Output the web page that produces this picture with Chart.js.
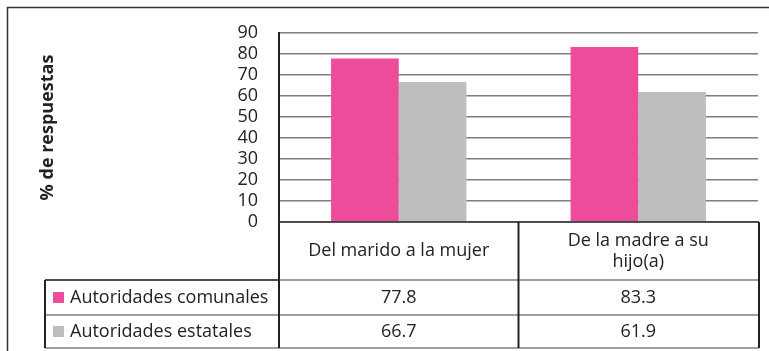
<!DOCTYPE html>
<html>
<head>
<meta charset="utf-8">
<script src="https://cdn.jsdelivr.net/npm/chart.js@4/dist/chart.umd.min.js"></script>
<style>
  html, body { margin: 0; background: #fff; }
  #wrap { width: 769px; height: 351px; }
</style>
</head>
<body>
<div id="wrap"><canvas id="chart"></canvas></div>
<script>
// Data
const categories = [['Del marido a la mujer'], ['De la madre a su', 'hijo(a)']]
const seriesNames = ['Autoridades comunales', 'Autoridades estatales']
const comunales = [77.8, 83.3]
const estatales = [66.7, 61.9]
const yTickStep = 10
const yMax = 90

const PINK = '#ec4c99'
const GRAY = '#bcbec0'
const INK = '#222'
const FONT = '"Open Sans", sans-serif'

// Outer frame of the figure (runs off the right and bottom edges)
const frame = {
  id: 'frame',
  beforeDraw(chart) {
    const ctx = chart.ctx
    ctx.save()
    ctx.strokeStyle = '#333'
    ctx.lineWidth = 1.5
    ctx.strokeRect(7.5, 7.5, 800, 400)
    ctx.restore()
  }
}

// Data table under the plot, one column per category
const dataTable = {
  id: 'dataTable',
  afterDraw(chart) {
    const { ctx, chartArea, scales: { x } } = chart
    const rowHeights = [58, 35, 33]
    const y0 = chartArea.bottom
    const y1 = y0 + rowHeights[0]
    const y2 = y1 + rowHeights[1]
    const y3 = y2 + rowHeights[2]
    const left = chartArea.left
    const right = chartArea.right + 1
    const mid = (x.getPixelForValue(0) + x.getPixelForValue(1)) / 2
    const keyLeft = 45

    ctx.save()
    // horizontal rules
    ctx.lineWidth = 1.5
    ctx.strokeStyle = '#7f7f7f'
    ;[y1, y2, y3].forEach(y => {
      ctx.beginPath(); ctx.moveTo(keyLeft, y); ctx.lineTo(right, y); ctx.stroke()
    })
    ctx.strokeStyle = '#333'
    ctx.beginPath(); ctx.moveTo(left, y0); ctx.lineTo(right, y0); ctx.stroke()
    ctx.beginPath(); ctx.moveTo(keyLeft, y1); ctx.lineTo(left, y1); ctx.stroke()
    // vertical rules
    ctx.strokeStyle = INK
    ctx.lineWidth = 2
    ;[[left, y0], [mid, y0], [right, y0], [keyLeft, y1]].forEach(([xx, ya]) => {
      ctx.beginPath(); ctx.moveTo(xx, ya); ctx.lineTo(xx, y3); ctx.stroke()
    })

    ctx.fillStyle = INK
    ctx.font = '18px ' + FONT
    ctx.textAlign = 'center'
    ctx.textBaseline = 'middle'
    // header row: category labels
    categories.forEach((lines, i) => {
      const cx = x.getPixelForValue(i)
      const lh = 21
      const start = (y0 + y1) / 2 - (lines.length - 1) * lh / 2
      lines.forEach((t, j) => ctx.fillText(t, cx, start + j * lh))
    })
    // value rows with legend keys
    const rows = [[comunales, PINK, y1, y2], [estatales, GRAY, y2, y3]]
    rows.forEach(([vals, color, ya, yb], r) => {
      const cy = (ya + yb) / 2
      vals.forEach((v, i) => ctx.fillText(v.toFixed(1), x.getPixelForValue(i), cy))
      ctx.fillStyle = color
      ctx.fillRect(53, cy - 5.5, 11, 11)
      ctx.fillStyle = INK
      ctx.textAlign = 'left'
      ctx.fillText(seriesNames[r], 70, cy)
      ctx.textAlign = 'center'
    })
    ctx.restore()
  }
}

new Chart(document.getElementById('chart'), {
  type: 'bar',
  data: {
    labels: categories,
    datasets: [
      { label: seriesNames[0], data: comunales, backgroundColor: PINK },
      { label: seriesNames[1], data: estatales, backgroundColor: GRAY }
    ]
  },
  options: {
    responsive: true,
    maintainAspectRatio: false,
    animation: false,
    categoryPercentage: 0.565,
    barPercentage: 1,
    layout: { padding: { left: 0, top: 33, right: 11, bottom: 121 } },
    plugins: {
      legend: { display: false },
      tooltip: { enabled: false }
    },
    scales: {
      x: {
        ticks: { display: false },
        grid: { display: false },
        border: { display: false }
      },
      y: {
        min: 0,
        max: yMax,
        ticks: {
          stepSize: yTickStep,
          autoSkip: false,
          padding: 21,
          color: INK,
          font: { family: FONT, size: 18 }
        },
        grid: { color: '#7f7f7f', lineWidth: 1.5, drawTicks: false },
        border: { display: true, color: INK, width: 2 },
        title: {
          display: true,
          text: '% de respuestas',
          color: INK,
          font: { family: FONT, size: 18, weight: 'bold' },
          padding: { top: 37, bottom: 0 }
        },
        afterFit(scale) { scale.width = 279 }
      }
    }
  },
  plugins: [frame, dataTable]
})
</script>
</body>
</html>
